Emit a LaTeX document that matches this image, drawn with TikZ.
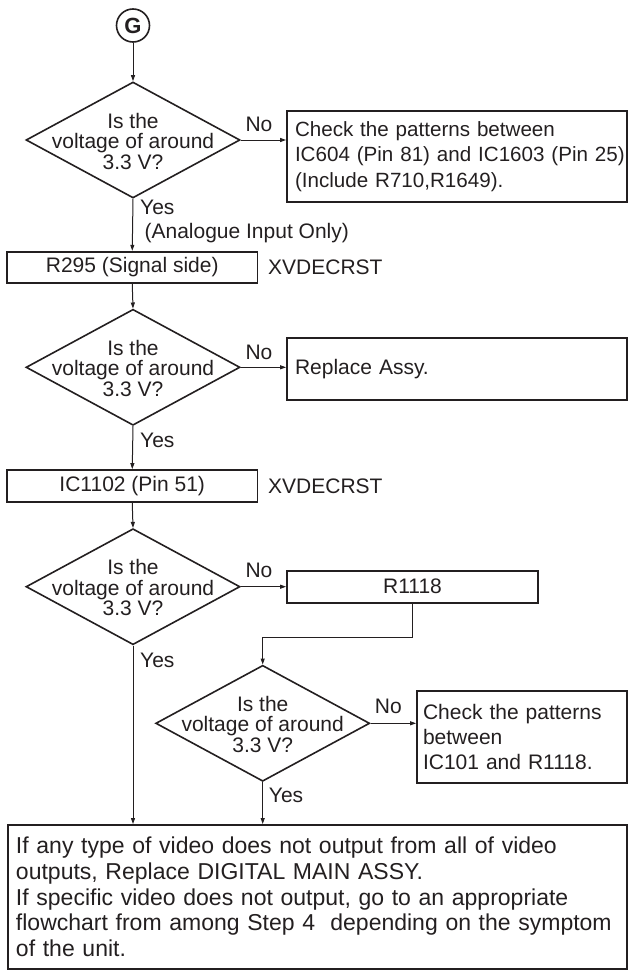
\documentclass[tikz,border=0pt]{standalone}
\usepackage{fontspec}
\setmainfont{Liberation Sans}
\usetikzlibrary{shapes.geometric,arrows.meta}
\definecolor{ink}{RGB}{35,31,32}
\begin{document}
\begin{tikzpicture}[x=1pt,y=-1pt,
  every node/.style={text=ink, font=\fontsize{21}{25.3}\selectfont},
  dia/.style={draw=ink, shape=diamond, line width=1.6pt, minimum width=214pt, minimum height=116pt, inner sep=0pt},
  dtext/.style={align=center, font=\fontsize{21}{20.5}\selectfont, inner sep=0pt},
  box/.style={draw=ink, line width=1.8pt, rectangle, inner sep=0pt},
  lbox/.style={box, align=left, inner xsep=8pt},
  lbl/.style={inner sep=0pt},
  arr/.style={draw=ink, line width=1pt, -{Triangle[length=6pt,width=4pt]}}]
\useasboundingbox (0,0) rectangle (629,971);

\node[circle, draw=ink, line width=1.6pt, minimum size=33pt, inner sep=0pt, font=\bfseries\fontsize{22}{22}\selectfont] (G) at (133,25.5) {G};

% decision 1
\node[dia] (d1) at (133,140) {};
\node[dtext] (d1t) at (133,141) {Is the\\voltage of around\\3.3 V?};
\node[lbl] (n1) at (259,124) {No};
\node[lbox, minimum height=90.7pt, text width=324pt, font=\fontsize{20.6}{25.3}\selectfont] (b1) at (457,156.4) {Check the patterns between\\\mbox{IC604 (Pin 81) and IC1603 (Pin 25)}\\(Include R710,R1649).};
\node[lbl, anchor=west] (y1) at (140,207) {Yes};
\node[lbl, anchor=west] (an) at (144.4,233) {(Analogue Input Only)};

\node[box, minimum width=250.5pt, minimum height=31pt] (r295) at (132.25,267.2) {R295 (Signal side)};
\node[lbl, anchor=west] (x1) at (268,267.5) {XVDECRST};

% decision 2
\node[dia] (d2) at (133,367.3) {};
\node[dtext] (d2t) at (133,368.3) {Is the\\voltage of around\\3.3 V?};
\node[lbl] (n2) at (259,352.7) {No};
\node[lbox, minimum height=61.7pt, text width=324pt] (b2) at (457,369.2) {Replace Assy.};
\node[lbl, anchor=west] (y2) at (140,440) {Yes};

\node[box, minimum width=250.5pt, minimum height=31.7pt] (ic) at (132.25,485.85) {IC1102 (Pin 51)};
\node[lbl, anchor=west] (x2) at (268,486.5) {XVDECRST};

% decision 3
\node[dia] (d3) at (133,586.7) {};
\node[dtext] (d3t) at (133,587.7) {Is the\\voltage of around\\3.3 V?};
\node[lbl] (n3) at (259,570.7) {No};
\node[box, minimum width=251pt, minimum height=32pt] (r1118) at (412.5,586.7) {R1118};
\node[lbl, anchor=west] (y3) at (140,660) {Yes};
\coordinate (c1) at (412.5,637.3);
\coordinate (c2) at (262.7,637.3);

% decision 4
\node[dia] (d4) at (262.7,723.3) {};
\node[dtext] (d4t) at (262.7,724.3) {Is the\\voltage of around\\3.3 V?};
\node[lbl] (n4) at (388.3,706.7) {No};
\node[lbox, inner xsep=6pt, minimum height=91.7pt, text width=198pt] (b4) at (522,736.8) {Check the patterns\\between\\IC101 and R1118.};
\node[lbl, anchor=west] (y4) at (268.7,795) {Yes};

% final
\node[lbox, minimum height=143.7pt, text width=603pt, font=\fontsize{23}{25.6}\selectfont] (fin) at (317.5,896.8) {If any type of video does not output from all of video\\outputs, Replace DIGITAL MAIN ASSY.\\If specific video does not output, go to an appropriate\\\mbox{flowchart from among Step 4~ depending on the symptom}\\of the unit.};

% connectors
\draw[arr] (G) -- (d1.north);
\draw[arr] (d1.east) -- (d1.east -| b1.west);
\draw[arr] (d1.south) -- (r295.north);
\draw[arr] (r295.south) -- (d2.north);
\draw[arr] (d2.east) -- (d2.east -| b2.west);
\draw[arr] (d2.south) -- (ic.north);
\draw[arr] (ic.south) -- (d3.north);
\draw[arr] (d3.east) -- (r1118.west);
\draw[arr] (r1118.south) -- (c1) -- (c2) -- (d4.north);
\draw[arr] (d4.east) -- (d4.east -| b4.west);
\draw[arr] (d3.south) -- (d3.south |- fin.north);
\draw[arr] (d4.south) -- (d4.south |- fin.north);
\end{tikzpicture}
\end{document}
